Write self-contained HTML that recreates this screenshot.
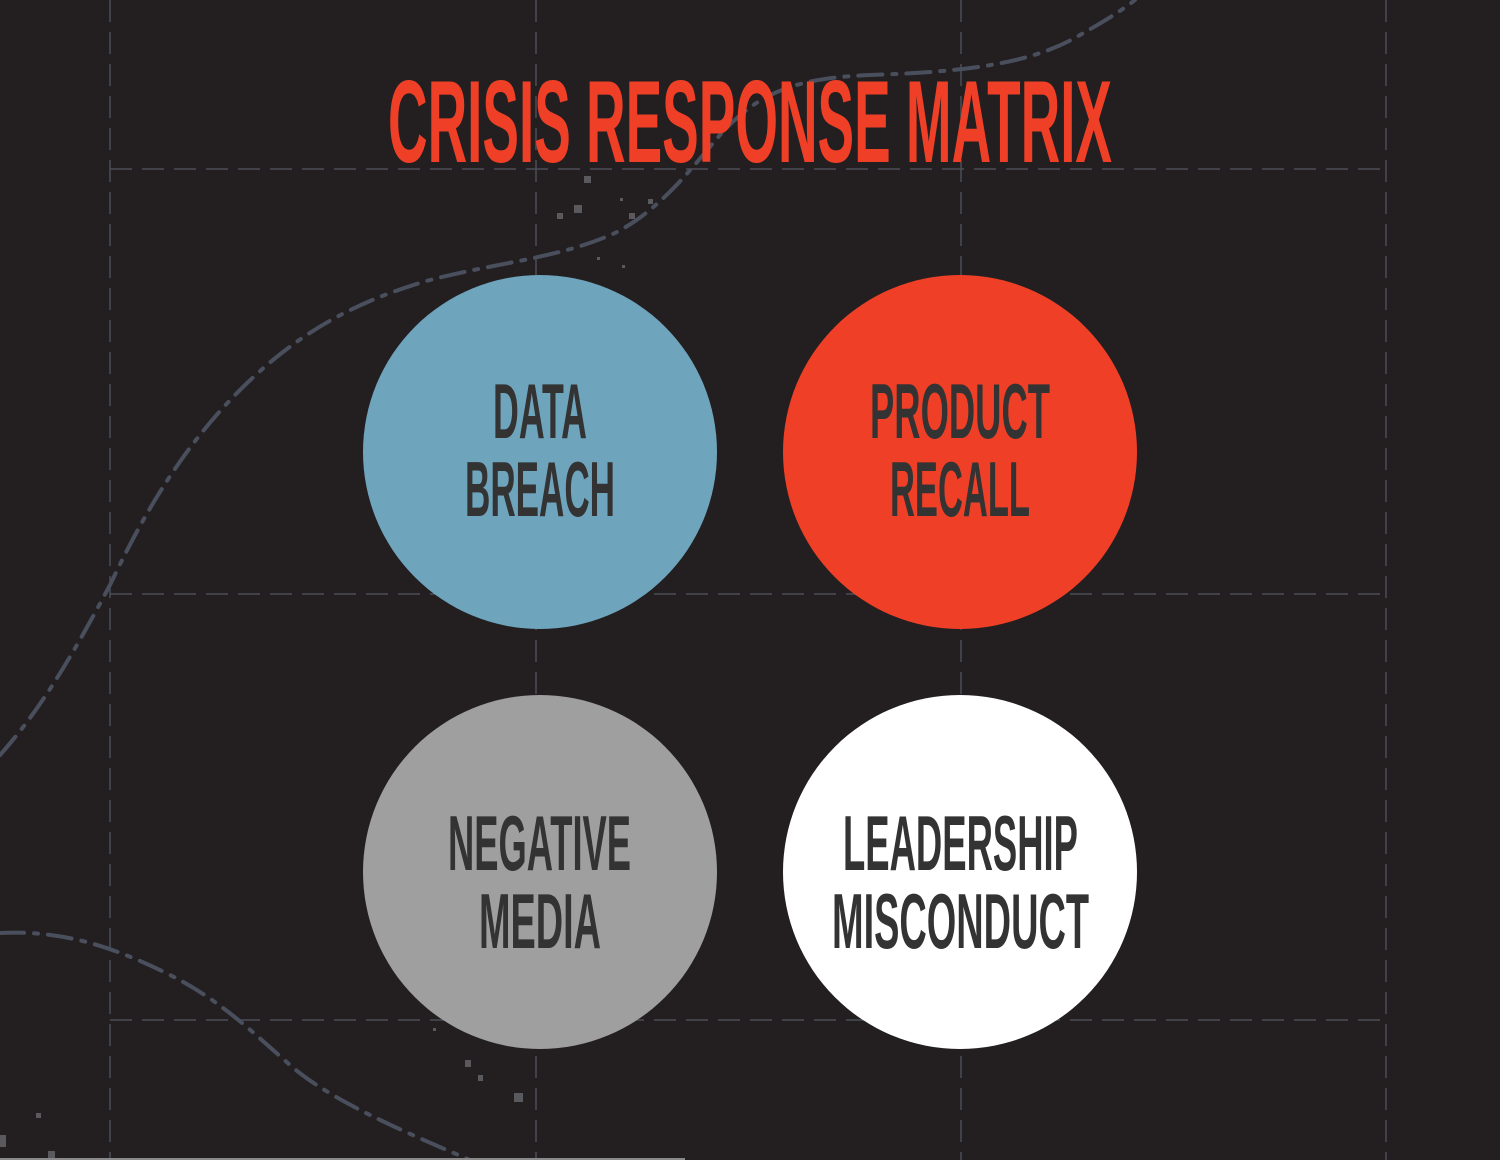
<!DOCTYPE html>
<html><head><meta charset="utf-8"><style>
html,body{margin:0;padding:0;background:#231f20;width:1500px;height:1160px;overflow:hidden}
svg{display:block}
</style></head><body>
<svg width="1500" height="1160" viewBox="0 0 1500 1160" xmlns="http://www.w3.org/2000/svg">
<rect width="1500" height="1160" fill="#231f20"/>
<g stroke="#4a4d57" stroke-width="1.5" stroke-dasharray="22 10" fill="none">
<line x1="110" y1="0" x2="110" y2="1160"/>
<line x1="536" y1="0" x2="536" y2="1160"/>
<line x1="961" y1="0" x2="961" y2="1160"/>
<line x1="1386" y1="0" x2="1386" y2="1160"/>
<line x1="110" y1="169" x2="1386" y2="169"/>
<line x1="110" y1="594" x2="1386" y2="594"/>
<line x1="110" y1="1020" x2="1386" y2="1020"/>
</g>
<g stroke="#4a4f5e" stroke-width="4" stroke-dasharray="24 10 4 10" stroke-linecap="round" fill="none">
<path d="M0,755 C40,710 70,660 110,585 C150,500 190,440 240,390 C300,330 360,300 430,280 C500,262 560,258 615,233 C660,210 690,170 720,135 C760,90 800,78 870,75 C960,72 1030,65 1080,35 C1110,18 1125,8 1135,0"/>
<path d="M0,933 C60,930 110,945 170,975 C220,1000 250,1030 290,1065 C330,1100 400,1130 470,1160"/>
</g>
<g fill="#5a5a5e">
<rect x="584" y="176" width="7" height="7"/><rect x="574" y="205" width="8" height="8"/><rect x="557" y="213" width="6" height="6"/>
<rect x="629" y="213" width="6" height="6"/><rect x="648" y="199" width="5" height="5"/><rect x="620" y="198" width="3" height="3"/>
<rect x="597" y="257" width="3" height="3"/><rect x="622" y="265" width="3" height="3"/>
<rect x="433" y="1028" width="3" height="3"/><rect x="465" y="1060" width="6" height="7"/><rect x="478" y="1075" width="5" height="6"/>
<rect x="514" y="1093" width="9" height="9"/><rect x="36" y="1113" width="5" height="5"/><rect x="0" y="1135" width="6" height="12"/><rect x="48" y="1151" width="7" height="9"/>
</g>
<rect x="0" y="1158" width="685" height="2" fill="#8a8a8a"/>
<text x="388" y="162" textLength="724" lengthAdjust="spacingAndGlyphs" font-family="Liberation Sans, sans-serif" font-weight="bold" font-size="117" fill="#ef4027">CRISIS RESPONSE MATRIX</text>
<circle cx="540" cy="452" r="177" fill="#6fa4bd"/>
<circle cx="960" cy="452" r="177" fill="#ef4027"/>
<circle cx="540" cy="872" r="177" fill="#9f9f9f"/>
<circle cx="960" cy="872" r="177" fill="#ffffff"/>
<g font-family="Liberation Sans, sans-serif" font-weight="bold" font-size="78" fill="#333333">
<text x="493" y="438" textLength="94" lengthAdjust="spacingAndGlyphs">DATA</text>
<text x="465" y="516" textLength="150" lengthAdjust="spacingAndGlyphs">BREACH</text>
<text x="870" y="438" textLength="180" lengthAdjust="spacingAndGlyphs">PRODUCT</text>
<text x="890" y="516" textLength="140" lengthAdjust="spacingAndGlyphs">RECALL</text>
<text x="448" y="870" textLength="183" lengthAdjust="spacingAndGlyphs">NEGATIVE</text>
<text x="479" y="948" textLength="122" lengthAdjust="spacingAndGlyphs">MEDIA</text>
<text x="843" y="870" textLength="235" lengthAdjust="spacingAndGlyphs">LEADERSHIP</text>
<text x="832" y="948" textLength="257" lengthAdjust="spacingAndGlyphs">MISCONDUCT</text>
</g>
</svg>
</body></html>
